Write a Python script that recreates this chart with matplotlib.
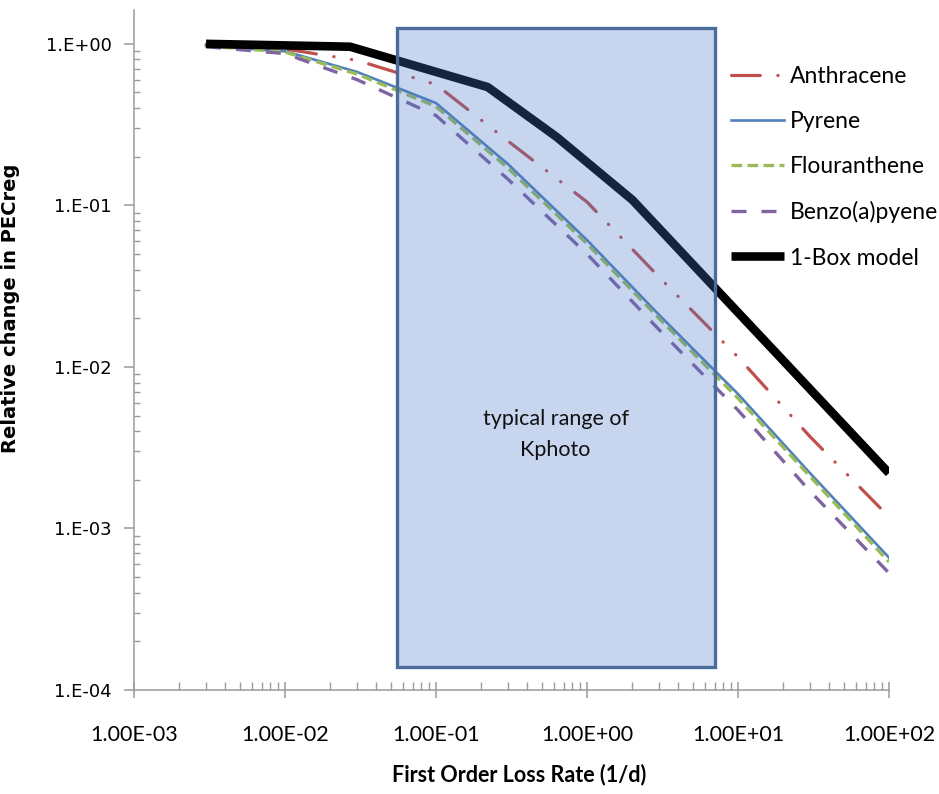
import matplotlib
matplotlib.use("Agg")
import matplotlib.pyplot as plt
from matplotlib import font_manager
from matplotlib.patches import Rectangle
from matplotlib.ticker import FixedLocator, LogLocator, NullFormatter

def pick(*names):
    for n in names:
        try:
            font_manager.findfont(n, fallback_to_default=False)
            return n
        except Exception:
            pass
    return "DejaVu Sans"

CAL = pick("Lato", "Open Sans", "DejaVu Sans")
VER = pick("DejaVu Sans")

# ---------------- data ----------------
k_pah = [0.003, 0.01, 0.03, 0.1, 0.3, 1, 3, 10, 30, 100]
anthracene = [0.99, 0.93, 0.79, 0.56, 0.25, 0.105, 0.036, 0.0115, 0.0037, 0.00118]
pyrene = [0.97, 0.90, 0.67, 0.43, 0.18, 0.061, 0.021, 0.0068, 0.0022, 0.00066]
flouranthene = [0.97, 0.89, 0.65, 0.41, 0.17, 0.058, 0.020, 0.0064, 0.0021, 0.00062]
benzo = [0.96, 0.87, 0.60, 0.36, 0.145, 0.050, 0.017, 0.0054, 0.0017, 0.00053]

k_box = [0.003, 0.027, 0.22, 0.63, 2.0, 7.0, 100]
box_model = [1.0, 0.96, 0.54, 0.265, 0.108, 0.031, 0.0022]

kphoto_range = [0.055, 7.0]
kphoto_yrange = [1.39e-4, 1.26]

xticks = [1e-3, 1e-2, 1e-1, 1e0, 1e1, 1e2]
xtick_labels = ["1.00E-03", "1.00E-02", "1.00E-01", "1.00E+00", "1.00E+01", "1.00E+02"]
yticks = [1e-4, 1e-3, 1e-2, 1e-1, 1e0]
ytick_labels = ["1.E-04", "1.E-03", "1.E-02", "1.E-01", "1.E+00"]

# ---------------- figure ----------------
fig = plt.figure(figsize=(9.39, 7.94), dpi=100)
ax = fig.add_axes([134 / 939, 104 / 794, 755 / 939, 680 / 794])
ax.set_xscale("log")
ax.set_yscale("log")
ax.set_xlim(1e-3, 100)
ax.set_ylim(1e-4, 1.62)

l1, = ax.plot(k_pah, anthracene, color="#C0504D", lw=2.3,
              dashes=(9, 5.5, 0.1, 5.5, 0.1, 5.5), dash_capstyle="round",
              label="Anthracene")
l2, = ax.plot(k_pah, pyrene, color="#4F81BD", lw=1.9, label="Pyrene")
l3, = ax.plot(k_pah, flouranthene, color="#9BBB59", lw=2.4,
              dashes=(3.2, 1.6), label="Flouranthene")
l4, = ax.plot(k_pah, benzo, color="#8064A2", lw=2.4,
              dashes=(4.5, 4.5), label="Benzo(a)pyene")
l5, = ax.plot(k_box, box_model, color="black", lw=6.2,
              solid_capstyle="butt", label="1-Box model")

rect = Rectangle((kphoto_range[0], kphoto_yrange[0]),
                 kphoto_range[1] - kphoto_range[0],
                 kphoto_yrange[1] - kphoto_yrange[0],
                 facecolor=(70 / 255, 118 / 255, 200 / 255, 0.3),
                 edgecolor="#4A6C9B", lw=2.4, zorder=5)
ax.add_patch(rect)
ax.text(0.62, 0.0038, "typical range of\nKphoto", ha="center", va="center",
        fontsize=15.5, family=CAL, linespacing=1.7, zorder=6, color="#111111")

# axes styling
for s in ["top", "right"]:
    ax.spines[s].set_visible(False)
for s in ["left", "bottom"]:
    ax.spines[s].set_color("#9a9a9a")
    ax.spines[s].set_linewidth(1.1)

ax.xaxis.set_major_locator(FixedLocator(xticks))
ax.set_xticklabels(xtick_labels)
ax.xaxis.set_minor_locator(LogLocator(base=10, subs=range(2, 10), numticks=20))
ax.xaxis.set_minor_formatter(NullFormatter())
ax.yaxis.set_major_locator(FixedLocator(yticks))
ax.set_yticklabels(ytick_labels)
ax.yaxis.set_minor_locator(LogLocator(base=10, subs=range(2, 10), numticks=20))
ax.yaxis.set_minor_formatter(NullFormatter())

ax.tick_params(axis="x", which="major", direction="inout", length=12, width=1.1,
               color="#9a9a9a", pad=19, labelsize=15.5)
ax.tick_params(axis="x", which="minor", direction="in", length=6, width=1.0,
               color="#9a9a9a")
ax.tick_params(axis="y", which="major", direction="out", length=7, width=1.1,
               color="#9a9a9a", pad=9, labelsize=13)
ax.tick_params(axis="y", which="minor", direction="in", length=4, width=1.0,
               color="#9a9a9a")
for t in ax.get_xticklabels():
    t.set_family(CAL)
for t in ax.get_yticklabels():
    t.set_family(VER)

ax.set_xlabel("First Order Loss Rate (1/d)", family=CAL, fontweight="bold",
              fontsize=15.5)
ax.xaxis.set_label_coords((519 - 134) / 755, -(764 - 690) / 680)
ax.set_ylabel("Relative change in PECreg", family=VER, fontweight="bold",
              fontsize=14)
ax.yaxis.set_label_coords((20 - 134) / 755, (794 - 308 - 104) / 680)

leg = fig.legend(handles=[l1, l2, l3, l4, l5], loc="upper left",
                 bbox_to_anchor=(722 / 939, 1 - 57 / 794), frameon=False,
                 prop={"family": CAL, "size": 16.5}, handlelength=2.3,
                 handletextpad=0.25, labelspacing=1.05, borderaxespad=0)

fig.savefig("out.png", dpi=100)
